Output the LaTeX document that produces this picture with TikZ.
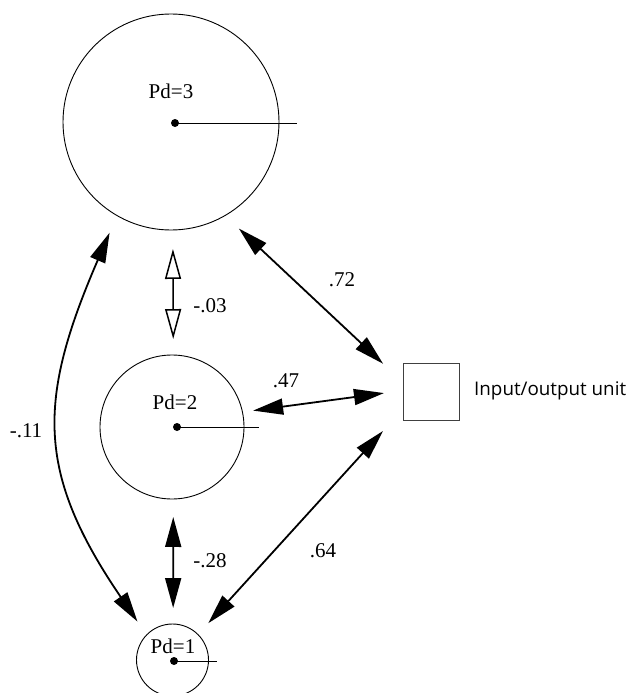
\documentclass[tikz,border=0pt]{standalone}
\usepackage{fontspec}
\setmainfont{Liberation Serif}
\newfontfamily\labelserif{Liberation Serif}
\newfontfamily\labelsans{Open Sans}
\usetikzlibrary{arrows.meta}
\begin{document}
\begin{tikzpicture}[x=1pt,y=-1pt,
  unitc/.style={circle,draw,line width=0.9pt,inner sep=0pt,outer sep=0pt,minimum size=#1},
  ctr/.style={circle,fill,inner sep=0pt,minimum size=8pt},
  radline/.style={line width=0.9pt},
  lbl/.style={anchor=base,inner sep=0pt,font=\labelserif\fontsize{21}{25}\selectfont},
  bighead/.tip={Triangle[length=30pt,width=16pt]},
  openhead/.tip={Triangle[length=30pt,width=16pt,fill=white]},
  corr/.style={line width=1.8pt,bighead-bighead},
  corropen/.style={line width=1.5pt,openhead-openhead},
]
\useasboundingbox (0,0) rectangle (629,693);

% units
\node[unitc=216pt] (c3) at (171,122) {};
\node[unitc=144pt] (c2) at (172,427) {};
\node[unitc=72pt] (c1) at (172.5,660) {};
\node[draw=black!75,line width=0.9pt,minimum width=56pt,minimum height=57pt,inner sep=0pt,outer sep=0pt] (io) at (431,391.5) {};

% centre dots and radius lines
\node[ctr] (d3) at (175,123) {};
\node[ctr] (d2) at (177,427) {};
\node[ctr] (d1) at (174,661) {};
\coordinate (r3) at (297,123);
\coordinate (r2) at (259,427);
\coordinate (r1) at (217,661);
\draw[radline] (d3.center) -- (r3);
\draw[radline] (d2.center) -- (r2);
\draw[radline] (d1.center) -- (r1);

% unit labels
\node[lbl] (p3) at (171,98) {Pd=3};
\node[lbl] (p2) at (175,409) {Pd=2};
\node[lbl] (p1) at (173,653) {Pd=1};
\node[anchor=base west,inner sep=0pt,font=\labelsans\fontsize{18.8}{22}\selectfont] (iol) at (474,395) {Input/output unit};

% connections
\draw[corr,shorten <=19pt,shorten >=27.3pt] (c3.-60.6) -- (io.162.4);
\draw[corr,shorten <=10.8pt,shorten >=19.2pt] (c2.12.5) -- (io.178);
\draw[corr,shorten <=15.3pt,shorten >=29.7pt] (c1.45.6) -- (io.212);
\draw[corropen,shorten <=19pt,shorten >=16pt] (c3.-89) -- (c2.89);
\draw[corr,shorten <=18pt,shorten >=16pt] (c2.-89) -- (c1.89);
\draw[corr,shorten <=16.2pt,shorten >=18.7pt] (c1.136.9) .. controls +(-111,-163) and +(-79.5,184.2) .. (c3.240.3);

% weights
\node[lbl] (w72) at (342,286) {.72};
\node[lbl] (w47) at (286,387) {.47};
\node[lbl] (w64) at (323,557) {.64};
\node[lbl] (w28) at (210,567) {-.28};
\node[lbl] (w03) at (210,312) {-.03};
\node[lbl] (w11) at (26,437) {-.11};
\end{tikzpicture}
\end{document}
